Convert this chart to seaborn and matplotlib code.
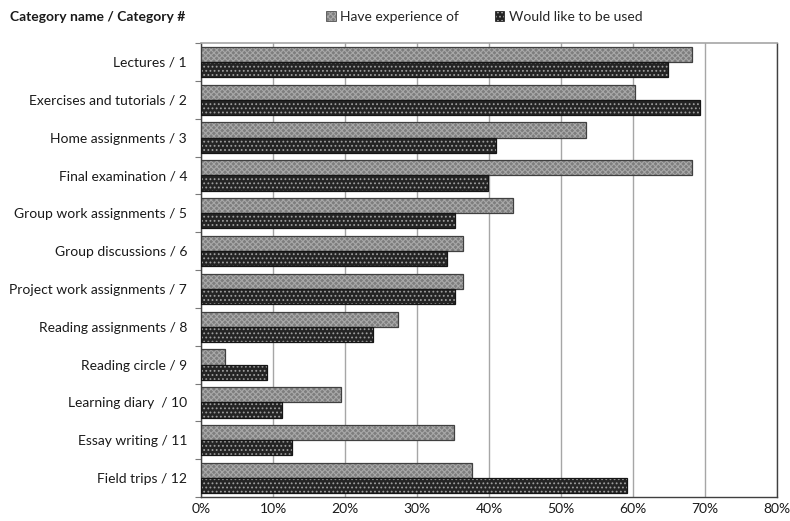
import matplotlib
matplotlib.use("Agg")
import matplotlib.pyplot as plt
import seaborn as sns
import pandas as pd
import numpy as np
from matplotlib.patches import Patch
from matplotlib.ticker import PercentFormatter, FixedLocator

categories = [
    "Lectures / 1",
    "Exercises and tutorials / 2",
    "Home assignments / 3",
    "Final examination / 4",
    "Group work assignments / 5",
    "Group discussions / 6",
    "Project work assignments / 7",
    "Reading assignments / 8",
    "Reading circle / 9",
    "Learning diary  / 10",
    "Essay writing / 11",
    "Field trips / 12",
]
have_experience = [68.2, 60.3, 53.5, 68.2, 43.3, 36.4, 36.4, 27.3, 3.4, 19.5, 35.2, 37.6]
would_like = [64.9, 69.3, 41.0, 39.8, 35.3, 34.1, 35.3, 23.9, 9.1, 11.3, 12.6, 59.1]
series_names = ["Have experience of", "Would like to be used"]
x_ticks = [0, 10, 20, 30, 40, 50, 60, 70, 80]

df = pd.DataFrame({
    "category": categories * 2,
    "value": have_experience + would_like,
    "series": [series_names[0]] * len(categories) + [series_names[1]] * len(categories),
})

sns.set_theme(style="white")
plt.rcParams["font.family"] = ["Lato", "DejaVu Sans"]
plt.rcParams["hatch.linewidth"] = 0.8

fig = plt.figure(figsize=(7.9, 5.21), dpi=100)
ax = fig.add_axes([201 / 790, 1 - 497 / 521, 576 / 790, 454 / 521])

face = {series_names[0]: "#7e7e7e", series_names[1]: "#242424"}
hatches = {series_names[0]: "xxxxxx", series_names[1]: "...."}
hatch_cols = {series_names[0]: (0.66, 0.66, 0.66, 1.0), series_names[1]: (0.62, 0.62, 0.62, 1.0)}
edges = {series_names[0]: "#404040", series_names[1]: "#151515"}

sns.barplot(data=df, x="value", y="category", hue="series", order=categories,
            hue_order=series_names, palette=face, orient="h", width=0.8,
            legend=False, ax=ax, saturation=1, zorder=3)

n = len(categories)
for i, p in enumerate(ax.patches):
    s = series_names[0] if i < n else series_names[1]
    p.set_edgecolor(edges[s])
    p.set_linewidth(0.9)
    p.set_hatch(hatches[s])
    p._hatch_color = hatch_cols[s]

ax.set_xlim(0, 80)
ax.set_ylim(n - 0.5, -0.5)
ax.xaxis.set_major_locator(FixedLocator(x_ticks))
ax.xaxis.set_major_formatter(PercentFormatter(decimals=0))
ax.grid(axis="x", color="#a6a6a6", linewidth=1, zorder=0)
ax.set_axisbelow(True)
ax.set_xlabel("")
ax.set_ylabel("")

ax.yaxis.set_minor_locator(FixedLocator(np.arange(-0.5, n, 1.0)))
ax.tick_params(axis="y", which="major", length=0, pad=10, labelsize=10, labelcolor="#1a1a1a")
ax.tick_params(axis="y", which="minor", length=4, width=0.8, color="#7a7a7a", left=True)
ax.tick_params(axis="x", which="major", length=0, pad=4, labelsize=10, labelcolor="#1a1a1a")

for side in ["left", "bottom", "right"]:
    ax.spines[side].set_visible(True)
    ax.spines[side].set_color("#404040")
    ax.spines[side].set_linewidth(1)
ax.spines["top"].set_color("#a6a6a6")
ax.spines["top"].set_linewidth(1.2)

fig.text(10 / 790, 1 - 17 / 521, "Category name / Category #", fontsize=10,
         fontweight="bold", va="center", ha="left", color="#1a1a1a")

handles = [Patch(facecolor=face[s], edgecolor=edges[s], hatch=hatches[s], linewidth=0.5)
           for s in series_names]
leg = fig.legend(handles, series_names, loc="center", bbox_to_anchor=(484 / 790, 1 - 17 / 521),
                 ncol=2, frameon=False, fontsize=10, handlelength=0.7, handleheight=0.7,
                 handletextpad=0.3, columnspacing=2.6)
for h, s in zip(leg.legend_handles, series_names):
    h._hatch_color = hatch_cols[s]

fig.savefig("out.png", dpi=100)
